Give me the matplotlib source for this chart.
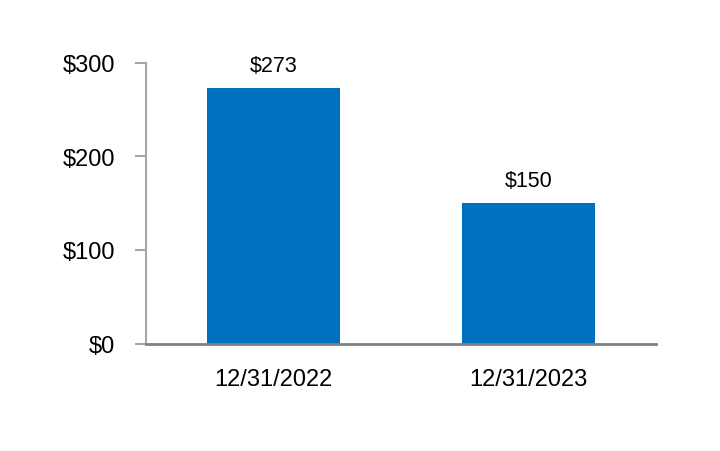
import matplotlib
matplotlib.use("Agg")
import matplotlib.pyplot as plt

categories = ["12/31/2022", "12/31/2023"]
values = [273, 150]
yticks = [0, 100, 200, 300]
ytick_labels = ["$0", "$100", "$200", "$300"]

plt.rcParams['font.family'] = ['Liberation Sans', 'DejaVu Sans']

fig = plt.figure(figsize=(7.2, 4.52), dpi=100)
ax = fig.add_axes([146/720, 1-344.5/452, (656-146)/720, (344.5-63.5)/452])

x = list(range(len(categories)))
bars = ax.bar(x, values, width=0.52, color="#0070C0")
ax.set_xlim(-0.5, 1.5)
ax.set_ylim(0, 300)
ax.set_yticks(yticks)
ax.set_yticklabels(ytick_labels, fontsize=17)
ax.set_xticks(x)
ax.set_xticklabels(categories, fontsize=17)

for s in ["top", "right"]:
    ax.spines[s].set_visible(False)
ax.spines["left"].set_color("#a6a6a6")
ax.spines["left"].set_linewidth(1.5)
ax.spines["bottom"].set_color("#808080")
ax.spines["bottom"].set_linewidth(2)
ax.tick_params(axis="y", length=8, width=1.5, color="#a6a6a6", pad=14.5, labelcolor="black")
ax.tick_params(axis="x", length=0, pad=17.5, labelcolor="black")

for xi, v in zip(x, values):
    ax.annotate(f"${v}", (xi, v), xytext=(0, 8.5), textcoords="offset points",
                ha="center", va="bottom", fontsize=15.5)

fig.savefig("out.png", dpi=100)
